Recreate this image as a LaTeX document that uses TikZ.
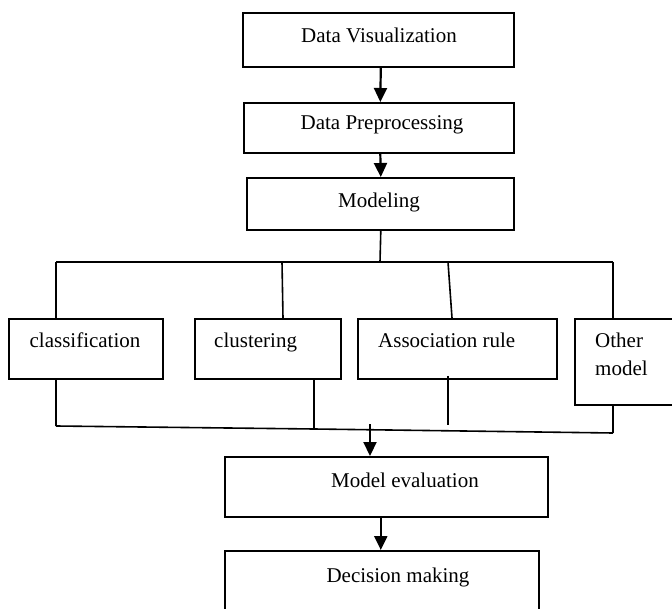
\documentclass[tikz,border=0pt]{standalone}
\usepackage{fontspec}
\setmainfont{Liberation Serif}
\usetikzlibrary{arrows.meta,calc}
\tikzset{
  box/.style={draw, line width=1.6pt, inner sep=0pt, anchor=north west},
  txt/.style={font=\fontsize{21}{25}\selectfont, inner sep=0pt},
  ln/.style={line width=1.6pt},
  arr/.style={line width=2.2pt, -{Triangle[length=14pt,width=13pt]}}
}
\begin{document}
\begin{tikzpicture}[x=1pt,y=-1pt]
\useasboundingbox (0,0) rectangle (672,609);
\clip (0,0) rectangle (672,609);
% top boxes
\node[box, minimum width=271pt, minimum height=54pt] (dv) at (242,12) {};
\node[box, minimum width=270pt, minimum height=50pt] (dp) at (243,102) {};
\node[box, minimum width=267pt, minimum height=52pt] (mo) at (246,177) {};
\node[txt, anchor=base] (tdv) at (379,43) {Data Visualization};
\node[txt, anchor=base] (tdp) at (382,130) {Data Preprocessing};
\node[txt, anchor=base] (tmo) at (379,208) {Modeling};
% middle row
\node[box, minimum width=154pt, minimum height=60pt] (cl) at (8,318) {};
\node[box, minimum width=146pt, minimum height=60pt] (cu) at (194,318) {};
\node[box, minimum width=199pt, minimum height=60pt] (as) at (357,318) {};
\node[box, minimum width=110pt, minimum height=86pt] (ot) at (574,318) {};
\node[txt, anchor=base] (tcl) at (85,348) {classification};
\node[txt, anchor=base west] (tcu) at (214,348) {clustering};
\node[txt, anchor=base west] (tas) at (378,348) {Association rule};
\node[txt, anchor=base west] (tot1) at (595,348) {Other};
\node[txt, anchor=base west] (tot2) at (595,376) {model};
% bottom boxes
\node[box, minimum width=323pt, minimum height=60pt] (me) at (224,456) {};
\node[box, minimum width=314pt, minimum height=90pt] (dm) at (224,550) {};
\node[txt, anchor=base] (tme) at (405,487) {Model evaluation};
\node[txt, anchor=base] (tdm) at (398,582) {Decision making};
% arrows top
\draw[arr] ($(dv.south)+(2.5,0)$) -- ($(dp.north)+(1.5,0)$);
\draw[arr] ($(dp.south)+(1.5,0)$) -- ($(mo.north)+(0.5,0)$);
% bus
\coordinate (bm) at (380,262);
\coordinate (bl) at (56,262);
\coordinate (br) at (613,262);
\draw[ln] ($(mo.south)+(0.5,0)$) -- (bm);
\draw[ln] (bl) -- (br);
\draw[ln] (bl) -- (bl |- cl.north);
\draw[ln] (282,262) -- (283,318);
\draw[ln] (448,262) -- (452,318);
\draw[ln] (br) -- (br |- ot.north);
% lower lines
\coordinate (ll) at (56,426);
\coordinate (lm) at (314,429);
\coordinate (lr) at (613,433);
\draw[ln] (ll |- cl.south) -- (ll);
\draw[ln] (lm |- cu.south) -- (lm);
\draw[ln] (448,376) -- (448,425);
\draw[ln] (lr |- ot.south) -- (lr);
\draw[ln] (ll) -- (lm) -- (lr);
\coordinate (ae) at (370,424);
\draw[arr] (ae) -- (ae |- me.north);
\draw[arr] ($(me.south)+(-5.5,0)$) -- ($(dm.north)+(-1,0)$);
\end{tikzpicture}
\end{document}
